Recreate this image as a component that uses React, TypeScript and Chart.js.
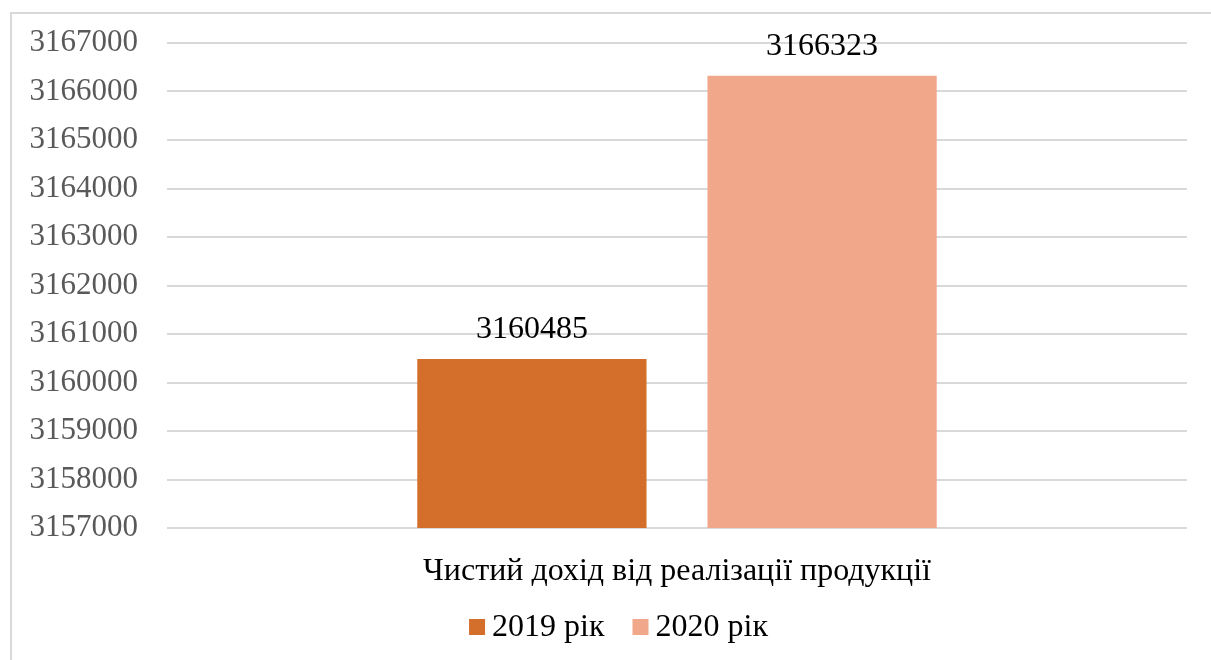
import React, { useEffect, useRef } from "react";
import { Chart, registerables } from "chart.js";

Chart.register(...registerables);

const categories = ["Чистий дохід від реалізації продукції"];
const seriesNames = ["2019 рік", "2020 рік"];
const values2019 = [3160485];
const values2020 = [3166323];
const seriesColors = ["#D36E2B", "#F0A78A"];
const yMin = 3157000;
const yMax = 3167000;
const yStep = 1000;

const FONT = '"Liberation Serif", "Times New Roman", serif';
const FS = 32;

const valueLabels = {
  id: "valueLabels",
  afterDatasetsDraw(chart: any) {
    const ctx = chart.ctx;
    ctx.save();
    ctx.font = `${FS}px ${FONT}`;
    ctx.fillStyle = "#000000";
    ctx.textAlign = "center";
    ctx.textBaseline = "middle";
    chart.data.datasets.forEach((ds: any, i: number) => {
      const meta = chart.getDatasetMeta(i);
      meta.data.forEach((el: any, j: number) => {
        ctx.fillText(String(ds.data[j]), el.x, el.y - 29);
      });
    });
    ctx.restore();
  },
};

// Legend drawn from the datasets' labels and colours
const bottomLegend = {
  id: "bottomLegend",
  afterDraw(chart: any) {
    const ctx = chart.ctx;
    ctx.save();
    ctx.font = `${FS}px ${FONT}`;
    const box = 16;
    const gap = 7;
    const itemGap = 28;
    const items = chart.data.datasets.map((ds: any) => ({
      text: ds.label,
      color: ds.backgroundColor,
      w: ctx.measureText(ds.label).width,
    }));
    const total =
      items.reduce((s: number, it: any) => s + box + gap + it.w, 0) +
      itemGap * (items.length - 1);
    let x = 618.5 - total / 2;
    const cy = 627;
    ctx.textAlign = "left";
    ctx.textBaseline = "middle";
    items.forEach((it: any) => {
      ctx.fillStyle = it.color;
      ctx.fillRect(x, cy - 8, box, box);
      ctx.fillStyle = "#000000";
      ctx.fillText(it.text, x + box + gap, cy + 1);
      x += box + gap + it.w + itemGap;
    });
    ctx.restore();
  },
};

export default function App() {
  const ref = useRef<HTMLCanvasElement | null>(null);
  useEffect(() => {
    if (!ref.current) return;
    const chart = new Chart(ref.current, {
      type: "bar",
      data: {
        labels: categories,
        datasets: [
          {
            label: seriesNames[0],
            data: values2019,
            backgroundColor: seriesColors[0],
            categoryPercentage: 0.569,
            barPercentage: 0.79,
          },
          {
            label: seriesNames[1],
            data: values2020,
            backgroundColor: seriesColors[1],
            categoryPercentage: 0.569,
            barPercentage: 0.79,
          },
        ],
      },
      options: {
        animation: false,
        responsive: false,
        maintainAspectRatio: false,
        layout: { padding: { top: 43, right: 24, bottom: 60, left: 0 } },
        plugins: {
          tooltip: { enabled: false },
          legend: { display: false },
        },
        scales: {
          x: {
            grid: { display: false, drawTicks: false },
            border: { display: false },
            ticks: {
              color: "#000000",
              font: { family: FONT, size: FS },
              padding: 24,
            },
            afterFit(scale: any) {
              scale.height = 72;
            },
          },
          y: {
            min: yMin,
            max: yMax,
            grid: { color: "#D9D9D9", lineWidth: 2, drawTicks: false },
            border: { display: false },
            ticks: {
              stepSize: yStep,
              color: "#595959",
              font: { family: FONT, size: 31, lineHeight: 1.2 },
              padding: 29,
              callback: (v: any) => String(v),
            },
            afterFit(scale: any) {
              scale.width = 167;
              scale.paddingTop = 0;
              scale.paddingBottom = 0;
            },
          },
        },
      },
      plugins: [valueLabels, bottomLegend],
    });
    return () => chart.destroy();
  }, []);
  return (
    <div
      style={{
        position: "fixed",
        left: 0,
        top: 0,
        width: 1211,
        height: 660,
        overflow: "hidden",
        background: "#ffffff",
      }}
    >
      <div
        style={{
          position: "absolute",
          left: 10,
          top: 12,
          width: 1300,
          height: 800,
          border: "2px solid #D9D9D9",
        }}
      />
      <canvas
        ref={ref}
        width={1211}
        height={660}
        style={{ position: "absolute", left: 0, top: 0 }}
      />
    </div>
  );
}
